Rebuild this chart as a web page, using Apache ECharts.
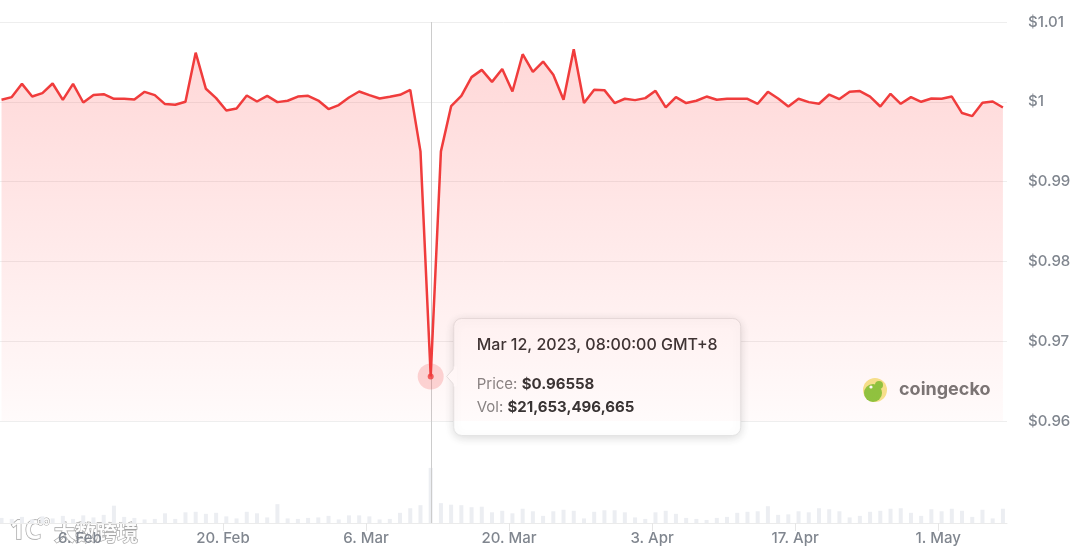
<!DOCTYPE html>
<html>
<head>
<meta charset="utf-8">
<script src="https://cdn.jsdelivr.net/npm/echarts@6/dist/echarts.min.js"></script>
<style>
html,body{margin:0;padding:0;background:#fff;}
#chart{width:1080px;height:551px;}
</style>
</head>
<body>
<div id="chart"></div>
<script>
// ---------- data ----------
const startDate = '2023-01-29'; // first daily point, 00:00 UTC
const prices = [
  1.00025, 1.00059, 1.00225, 1.00066, 1.00109, 1.00229, 1.00025, 1.00225, 0.99991, 1.00084,
  1.00096, 1.00038, 1.00038, 1.00029, 1.00125, 1.00084, 0.99971, 0.99963, 1.00000, 1.00616,
  1.00163, 1.00046, 0.99891, 0.99916, 1.00079, 1.00004, 1.00075, 0.99996, 1.00013, 1.00066,
  1.00075, 1.00016, 0.99909, 0.99959, 1.00054, 1.00129, 1.00084, 1.00041, 1.00063, 1.00088,
  1.00150, 0.99379, 0.96558, 0.99379, 0.99945, 1.00075, 1.00309, 1.00400, 1.00250, 1.00411,
  1.00129, 1.00596, 1.00375, 1.00504, 1.00338, 1.00025, 1.00659, 0.99984, 1.00150, 1.00146,
  0.99984, 1.00038, 1.00021, 1.00046, 1.00138, 0.99929, 1.00059, 0.99984, 1.00013, 1.00066,
  1.00025, 1.00038, 1.00038, 1.00038, 0.99975, 1.00125, 1.00041, 0.99941, 1.00038, 0.99996,
  0.99975, 1.00091, 1.00034, 1.00125, 1.00134, 1.00066, 0.99941, 1.00100, 0.99975, 1.00059,
  1.00000, 1.00041, 1.00038, 1.00066, 0.99859, 0.99821, 0.99988, 1.00004, 0.99929
];
// daily volume, billions USD
const volumesB = [
  2.0, 1.6, 2.4, 1.4, 2.6, 1.8, 2.8, 1.6, 3.0, 2.2,
  3.2, 6.8, 2.4, 2.0, 1.4, 1.6, 3.8, 1.6, 4.2, 4.4,
  3.6, 4.0, 2.6, 1.8, 4.4, 3.8, 2.2, 7.4, 1.8, 1.6,
  2.0, 2.2, 2.8, 1.4, 3.0, 3.0, 2.6, 1.4, 1.6, 4.0,
  5.8, 7.0, 21.653496665, 7.8, 7.2, 7.0, 6.2, 6.4, 4.2, 4.8,
  3.8, 5.6, 4.6, 2.8, 4.6, 5.2, 4.8, 1.8, 4.4, 5.0,
  5.0, 4.2, 2.2, 1.6, 4.2, 4.8, 3.6, 2.0, 1.6, 1.2,
  2.0, 2.4, 4.0, 4.4, 4.6, 6.6, 3.2, 3.4, 4.6, 4.2,
  5.8, 5.4, 4.6, 2.2, 2.8, 4.4, 4.8, 5.6, 5.8, 4.0,
  2.8, 5.4, 4.6, 5.6, 4.8, 2.4, 5.2, 1.8, 5.6
];
const xTickLabels = ['6. Feb', '20. Feb', '6. Mar', '20. Mar', '3. Apr', '17. Apr', '1. May'];
const xTickDates  = ['2023-02-06', '2023-02-20', '2023-03-06', '2023-03-20', '2023-04-03', '2023-04-17', '2023-05-01']; // local midnight GMT+8
const yMin = 0.96, yMax = 1.01, yStep = 0.01;
const hoverIndex = 42;
const hoverVolume = 21653496665;

// ---------- helpers ----------
const DAY = 86400000;
function utc(s, hourOffset) {
  const p = s.split('-').map(Number);
  return Date.UTC(p[0], p[1] - 1, p[2]) - (hourOffset || 0) * 3600000;
}
const t0 = utc(startDate);
const times = prices.map((_, i) => t0 + i * DAY);
const tickValues = xTickDates.map(d => utc(d, 8));
const xMin = t0 - 0.15 * DAY;
const xMax = t0 + 98.4 * DAY;

const RED = '#f03c3c';
const FONT = 'Inter, "Noto Sans", sans-serif';
const chart = echarts.init(document.getElementById('chart'));

chart.setOption({
  animation: false,
  backgroundColor: '#ffffff',
  textStyle: { fontFamily: FONT },
  grid: [
    { left: 0, right: 73, top: 22, height: 399 },
    { left: 0, right: 73, top: 467, height: 56 }
  ],
  xAxis: [
    { type: 'value', gridIndex: 0, min: xMin, max: xMax,
      axisLine: { show: false }, axisTick: { show: false }, axisLabel: { show: false }, splitLine: { show: false } },
    { type: 'value', gridIndex: 1, min: xMin, max: xMax,
      axisLine: { show: true, lineStyle: { color: '#ebebeb', width: 1 } },
      axisTick: { show: true, customValues: tickValues, length: 8, lineStyle: { color: '#e6e6e6' } },
      axisLabel: {
        customValues: tickValues, margin: 8, color: '#80868f', fontSize: 15, fontWeight: 500,
        formatter: v => { const k = tickValues.indexOf(v); return k >= 0 ? xTickLabels[k] : ''; }
      },
      splitLine: { show: false } }
  ],
  yAxis: [
    { type: 'value', gridIndex: 0, position: 'right', min: yMin, max: yMax, interval: yStep,
      axisLine: { show: false }, axisTick: { show: false },
      axisLabel: { margin: 21, color: '#80868f', fontSize: 15, fontWeight: 500, formatter: v => '$' + parseFloat(v.toFixed(2)) },
      splitLine: { lineStyle: { color: '#eeeeee', width: 1 } } },
    { type: 'value', gridIndex: 1, min: 0, max: 22, show: false, splitLine: { show: false } }
  ],
  series: [
    { type: 'bar', xAxisIndex: 1, yAxisIndex: 1, barWidth: 4,
      data: volumesB.map((v, i) => [times[i], v]),
      itemStyle: { color: '#eceef2' }, z: 1 },
    { type: 'line', xAxisIndex: 0, yAxisIndex: 0, symbol: 'none', smooth: false,
      data: prices.map((p, i) => [times[i], p]),
      lineStyle: { color: RED, width: 2.5 },
      areaStyle: { origin: 'start', color: new echarts.graphic.LinearGradient(0, 0, 0, 1, [
        { offset: 0, color: 'rgba(255,60,60,0.29)' },
        { offset: 1, color: 'rgba(255,60,60,0.03)' }
      ]) }, z: 3 },
    { type: 'scatter', xAxisIndex: 0, yAxisIndex: 0, symbolSize: 26, silent: true,
      data: [[times[hoverIndex], prices[hoverIndex]]],
      itemStyle: { color: 'rgba(240,60,60,0.25)' }, z: 4 },
    { type: 'scatter', xAxisIndex: 0, yAxisIndex: 0, symbolSize: 6, silent: true,
      data: [[times[hoverIndex], prices[hoverIndex]]],
      itemStyle: { color: RED }, z: 5 }
  ]
});

// ---------- overlay (crosshair, tooltip, watermarks) ----------
const pt = chart.convertToPixel({ xAxisIndex: 0, yAxisIndex: 0 }, [times[hoverIndex], prices[hoverIndex]]);
const pTop = chart.convertToPixel({ xAxisIndex: 0, yAxisIndex: 0 }, [times[hoverIndex], yMax]);
const pBot = chart.convertToPixel({ xAxisIndex: 1, yAxisIndex: 1 }, [times[hoverIndex], 0]);

const MON = ['Jan','Feb','Mar','Apr','May','Jun','Jul','Aug','Sep','Oct','Nov','Dec'];
const lt = new Date(times[hoverIndex] + 8 * 3600000);
const pad = n => String(n).padStart(2, '0');
const tipTitle = MON[lt.getUTCMonth()] + ' ' + lt.getUTCDate() + ', ' + lt.getUTCFullYear() + ', ' +
  pad(lt.getUTCHours()) + ':' + pad(lt.getUTCMinutes()) + ':' + pad(lt.getUTCSeconds()) + ' GMT+8';
const priceText = '$' + prices[hoverIndex].toFixed(5);
const volText = '$' + hoverVolume.toLocaleString('en-US');

const bx = pt[0] + 23, by = pt[1] - 58, bw = 287, bh = 117;

chart.setOption({
  graphic: [
    { type: 'line', z: 2, silent: true,
      shape: { x1: Math.round(pt[0]) + 0.5, y1: pTop[1], x2: Math.round(pt[0]) + 0.5, y2: pBot[1] },
      style: { stroke: '#cccccc', lineWidth: 1 } },
    // coingecko mark
    { type: 'group', z: 6, silent: true, children: [
      { type: 'circle', shape: { cx: 875, cy: 390, r: 12 }, style: { fill: '#f6e58d' } },
      { type: 'circle', shape: { cx: 873, cy: 393, r: 9 }, style: { fill: '#8cc63f' } },
      { type: 'circle', shape: { cx: 879, cy: 385, r: 4 }, style: { fill: '#8cc63f' } },
      { type: 'circle', shape: { cx: 871, cy: 387, r: 1.6 }, style: { fill: '#ffffff' } },
      { type: 'text', x: 899, y: 390, style: { text: 'coingecko', fill: '#767676', font: 'bold 18px ' + FONT, textVerticalAlign: 'middle' } }
    ] },
    // tooltip
    { type: 'group', z: 20, silent: true, children: [
      { type: 'rect', shape: { x: bx, y: by, width: bw, height: bh, r: 8 },
        style: { fill: '#ffffff', stroke: '#e4e4e4', lineWidth: 1, shadowBlur: 10, shadowColor: 'rgba(0,0,0,0.14)', shadowOffsetY: 2 } },
      { type: 'polygon', shape: { points: [[bx + 1, pt[1] - 9], [bx - 7, pt[1]], [bx + 1, pt[1] + 9]] },
        style: { fill: '#ffffff', stroke: '#e4e4e4', lineWidth: 1 } },
      { type: 'rect', shape: { x: bx, y: pt[1] - 10, width: 3, height: 20 }, style: { fill: '#ffffff' } },
      { type: 'text', x: bx + 23, y: by + 27, style: { text: tipTitle, fill: '#333333', font: '500 16px ' + FONT, textVerticalAlign: 'middle' } },
      { type: 'text', x: bx + 23, y: by + 66, style: {
        text: '{l|Price: }{b|' + priceText + '}', textVerticalAlign: 'middle',
        rich: { l: { fill: '#858585', font: '15px ' + FONT }, b: { fill: '#333333', font: 'bold 15px ' + FONT } } } },
      { type: 'text', x: bx + 23, y: by + 89, style: {
        text: '{l|Vol: }{b|' + volText + '}', textVerticalAlign: 'middle',
        rich: { l: { fill: '#858585', font: '15px ' + FONT }, b: { fill: '#333333', font: 'bold 15px ' + FONT } } } }
    ] },
    // site watermark
    { type: 'group', z: 30, silent: true, children: [
      { type: 'text', x: 10, y: 532, style: { text: '1C', fill: 'rgba(255,255,255,0.92)', stroke: 'rgba(100,100,100,0.6)', lineWidth: 1.3, font: 'bold 26px "Noto Sans", sans-serif', textVerticalAlign: 'middle' } },
      { type: 'text', x: 36, y: 522, style: { text: '∞', fill: 'rgba(255,255,255,0.92)', stroke: 'rgba(100,100,100,0.6)', lineWidth: 1, font: 'bold 18px "DejaVu Sans", sans-serif', textVerticalAlign: 'middle' } },
      { type: 'text', x: 54, y: 532, style: { text: '大数跨境', fill: 'rgba(255,255,255,0.92)', stroke: 'rgba(100,100,100,0.6)', lineWidth: 1.3, font: 'bold 21px "Noto Sans CJK SC", sans-serif', textVerticalAlign: 'middle' } }
    ] }
  ]
});
</script>
</body>
</html>
